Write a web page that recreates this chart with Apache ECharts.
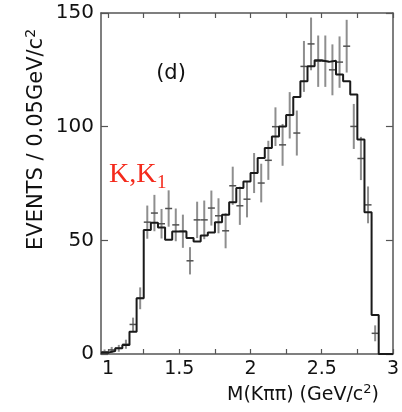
<!DOCTYPE html>
<html>
<head>
<meta charset="utf-8">
<script src="https://cdn.jsdelivr.net/npm/echarts@6/dist/echarts.min.js"></script>
<style>html,body{margin:0;padding:0;background:#fff;}#c{width:402px;height:412px;}</style>
</head>
<body>
<div id="c"></div>
<script>
// Histogram bin left edges (GeV/c^2), bin width 0.05
const binLeftEdges = [0.95,1.00,1.05,1.10,1.15,1.20,1.25,1.30,1.35,1.40,1.45,1.50,1.55,1.60,1.65,1.70,1.75,1.80,1.85,1.90,1.95,2.00,2.05,2.10,2.15,2.20,2.25,2.30,2.35,2.40,2.45,2.50,2.55,2.60,2.65,2.70,2.75,2.80,2.85,2.90,2.95];
const histEnd = 3.00;
// MC histogram contents per bin
const histCounts = [0.6,1.3,2.5,4,9.8,24.5,54.6,57.7,55.6,50.3,53.9,53.9,51,49.5,52.1,53.5,57.9,61.2,66.7,73,75.9,79.6,86.2,90.6,95.7,100.1,105.1,113,120,126.6,129.2,128.5,129,122.9,120,114.1,94.3,62.3,17.2,0,0];
// Data points (bin centres), values and error half-lengths
const dataCenters = [0.975,1.025,1.075,1.125,1.175,1.225,1.275,1.325,1.375,1.425,1.475,1.525,1.575,1.625,1.675,1.725,1.775,1.825,1.875,1.925,1.975,2.025,2.075,2.125,2.175,2.225,2.275,2.325,2.375,2.425,2.475,2.525,2.575,2.625,2.675,2.725,2.775,2.825,2.875];
const dataValues = [1,1.8,2.5,4.3,13,24.5,58,62,57.3,64,56.8,54,41,59,59,64.2,60.8,54.2,74,65.2,68.1,79.6,75.2,85.2,100,92,105,97.2,126.5,136.4,128.8,128.8,125,128.4,135.4,100.1,86,65.6,9.1];
const dataErrors = [1,1.3,1.5,2,3,4.8,7.3,8,6.5,8,7.2,7.3,6,8,8.5,7.7,7.7,7.7,8.4,8.4,8,8.8,8.5,8.6,8.5,9.2,10.2,9.9,11.2,11.6,11.3,11.3,11.2,11.3,11.6,9.9,9.5,8.1,3.5];
// Axis ticks
const xTickValues = [1,1.25,1.5,1.75,2,2.25,2.5,2.75,3];
const xLabelValues = [1,1.5,2,2.5,3];
const yTickValues = [0,50,100,150];

const histData = binLeftEdges.map((x, i) => [x, histCounts[i]]);
histData.push([histEnd, histCounts[histCounts.length - 1]]);
const pointData = dataCenters.map((x, i) => [x, dataValues[i], dataErrors[i]]);

const FONT = 'DejaVu Sans';
const axisColor = '#555';
const chart = echarts.init(document.getElementById('c'), null, {renderer: 'canvas'});
const xBase = {
  type: 'value', min: 0.95, max: 3.0,
  axisLine: {show: true, onZero: false, lineStyle: {color: axisColor, width: 1.5}},
  axisTick: {show: true, inside: true, length: 5, customValues: xTickValues, lineStyle: {color: axisColor, width: 1.2}},
  splitLine: {show: false}
};
const yBase = {
  type: 'value', min: 0, max: 150, interval: 50,
  axisLine: {show: true, onZero: false, lineStyle: {color: axisColor, width: 1.5}},
  axisTick: {show: true, inside: true, length: 7, lineStyle: {color: axisColor, width: 1.2}},
  splitLine: {show: false}
};
chart.setOption({
  animation: false,
  backgroundColor: '#fff',
  grid: {left: 101, right: 0, top: 13, bottom: 58, containLabel: false},
  xAxis: [
    Object.assign({}, xBase, {position: 'bottom',
      axisLabel: {show: true, customValues: xLabelValues, margin: 6, color: '#111', fontFamily: FONT, fontSize: 19,
        formatter: v => String(Math.round(v * 10) / 10)}}),
    Object.assign({}, xBase, {position: 'top', axisLabel: {show: false}})
  ],
  yAxis: [
    Object.assign({}, yBase, {position: 'left',
      axisLabel: {show: true, margin: 7, color: '#111', fontFamily: FONT, fontSize: 20, customValues: yTickValues}}),
    Object.assign({}, yBase, {position: 'right', axisLabel: {show: false}})
  ],
  series: [
    {
      type: 'custom', name: 'data', xAxisIndex: 0, yAxisIndex: 0, z: 2, clip: true,
      data: pointData,
      renderItem: function (params, api) {
        const x = api.value(0), y = api.value(1), e = api.value(2);
        const t = api.coord([x, y + e]);
        const b = api.coord([x, Math.max(0, y - e)]);
        const c = api.coord([x, y]);
        return {type: 'group', children: [
          {type: 'line', shape: {x1: t[0], y1: t[1], x2: b[0], y2: b[1]}, style: {stroke: '#8e8e8e', lineWidth: 2}},
          {type: 'line', shape: {x1: c[0] - 3.5, y1: c[1], x2: c[0] + 3.5, y2: c[1]}, style: {stroke: '#505050', lineWidth: 1.5}}
        ]};
      }
    },
    {
      type: 'line', name: 'mc', xAxisIndex: 0, yAxisIndex: 0, z: 3,
      data: histData, step: 'end', showSymbol: false, symbol: 'none',
      lineStyle: {color: '#1a1a1a', width: 2}
    }
  ],
  graphic: [
    {type: 'text', x: 171, y: 74, style: {text: '(d)', fontFamily: FONT, fontSize: 21, fill: '#111', align: 'center', verticalAlign: 'middle'}},
    {type: 'text', x: 109, y: 189, style: {text: 'K,K', fontFamily: 'Liberation Serif', fontSize: 28, fill: '#f42a1c', align: 'left', verticalAlign: 'bottom'}},
    {type: 'text', x: 157, y: 193, style: {text: '1', fontFamily: 'Liberation Serif', fontSize: 19, fill: '#f42a1c', align: 'left', verticalAlign: 'bottom'}},
    {type: 'text', x: 227, y: 395, style: {
      text: '{a|M(Kππ) (GeV/c}{s|2}{a|)}', align: 'left', verticalAlign: 'middle',
      rich: {a: {fontFamily: FONT, fontSize: 19, fill: '#111', lineHeight: 24},
             s: {fontFamily: FONT, fontSize: 13, fill: '#111', lineHeight: 24, padding: [0, 0, 10, 0]}}}},
    {type: 'text', x: 37, y: 250, rotation: Math.PI / 2, style: {
      text: '{a|EVENTS / 0.05GeV/c}{s|2}', align: 'left', verticalAlign: 'middle',
      rich: {a: {fontFamily: FONT, fontSize: 21, fill: '#111', lineHeight: 26},
             s: {fontFamily: FONT, fontSize: 14, fill: '#111', lineHeight: 26, padding: [0, 0, 11, 0]}}}}
  ]
});
</script>
</body>
</html>
